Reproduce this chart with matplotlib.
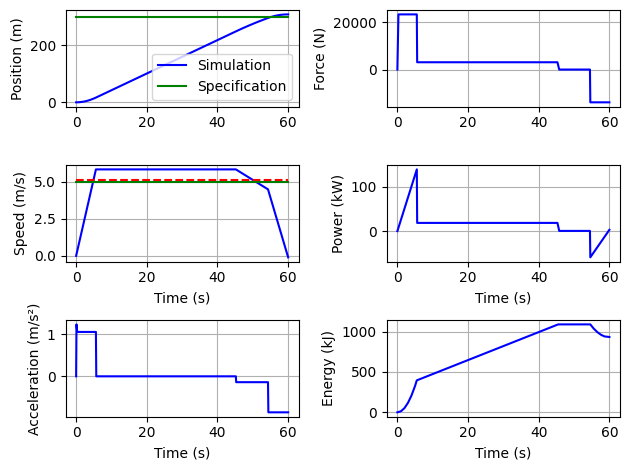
import numpy as np
import matplotlib
matplotlib.use('Agg')
import matplotlib.pyplot as plt

# values (time in s)
pos_t = [0, 1, 2, 3, 4, 5, 5.6, 45.2, 47, 49, 51, 53, 54.3, 55, 56, 57, 58, 59, 60]
pos_v = [0, 0.5, 2.1, 4.8, 8.5, 13.3, 16.6, 248, 258.3, 269.1, 279.4, 289, 295, 297.9, 301.5, 304.2, 306.1, 307.2, 307.5]
pos_spec = 300

speed_t = [0, 5.6, 45.2, 54.3, 60]
speed_v = [0, 5.85, 5.85, 4.5, -0.1]
speed_spec = 5.0
speed_limit = 5.15

acc_t = [0, 0.1, 0.3, 5.6, 5.7, 45.2, 45.3, 54.3, 54.4, 60]
acc_v = [0, 1.24, 1.06, 1.06, 0, 0, -0.14, -0.14, -0.86, -0.86]

force_t = [0, 0.3, 5.5, 5.6, 45.3, 45.8, 54.5, 54.6, 60]
force_v = [0, 23400, 23400, 3100, 3100, 0, 0, -13900, -13900]

power_t = [0, 5.5, 5.6, 45.3, 45.8, 54.5, 54.6, 60]
power_v = [0, 139, 18.5, 18.5, 0.5, 0.5, -59, 3]

energy_t = [0, 1, 2, 3, 4, 5, 5.5, 45.5, 54.6, 55.6, 56.6, 57.6, 58.6, 60]
energy_v = [0, 13, 52, 118, 209, 327, 396, 1089, 1089, 1035, 993, 961, 940, 933]

fig, axs = plt.subplots(3, 2)

ax = axs[0, 0]
ax.plot(pos_t, pos_v, 'b', label='Simulation')
ax.plot([pos_t[0], pos_t[-1]], [pos_spec, pos_spec], 'g', label='Specification')
ax.set_ylabel('Position (m)')
ax.legend(loc='lower right')
ax.grid()

ax = axs[1, 0]
ax.plot(speed_t, speed_v, 'b')
ax.plot([speed_t[0], speed_t[-1]], [speed_limit, speed_limit], 'r--')
ax.plot([speed_t[0], speed_t[-1]], [speed_spec, speed_spec], 'g')
ax.set_ylabel('Speed (m/s)')
ax.set_xlabel('Time (s)')
ax.grid()

ax = axs[2, 0]
ax.plot(acc_t, acc_v, 'b')
ax.set_ylabel('Acceleration (m/s²)')
ax.set_xlabel('Time (s)')
ax.grid()

ax = axs[0, 1]
ax.plot(force_t, force_v, 'b')
ax.set_ylabel('Force (N)')
ax.grid()

ax = axs[1, 1]
ax.plot(power_t, power_v, 'b')
ax.set_ylabel('Power (kW)')
ax.set_xlabel('Time (s)')
ax.grid()

ax = axs[2, 1]
ax.plot(energy_t, energy_v, 'b')
ax.set_ylabel('Energy (kJ)')
ax.set_xlabel('Time (s)')
ax.grid()

plt.tight_layout()
plt.savefig('out.png', dpi=100, bbox_inches='tight')
